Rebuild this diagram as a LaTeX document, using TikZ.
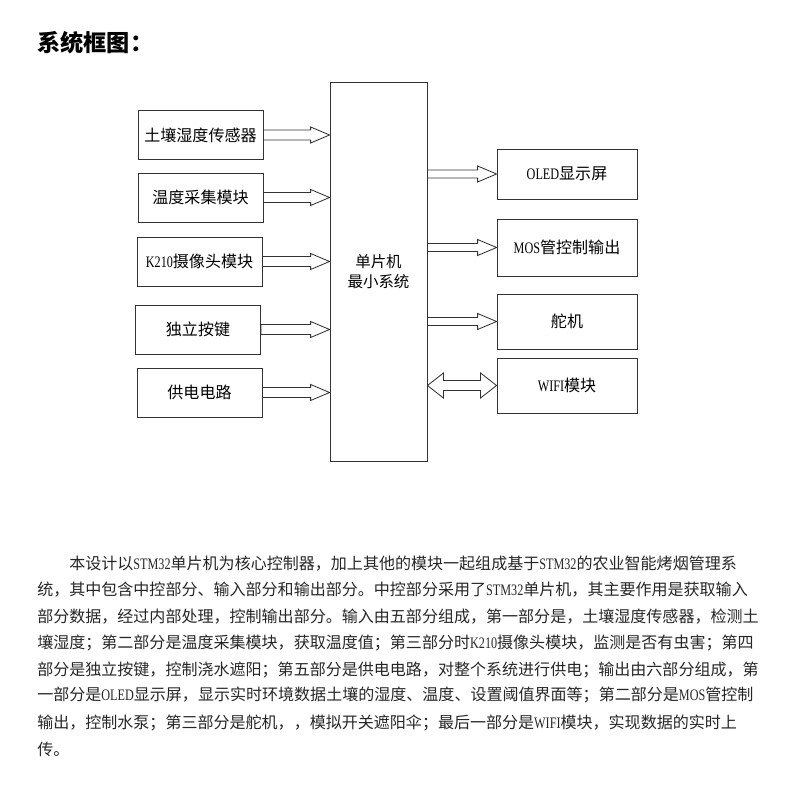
\documentclass[tikz,border=0pt]{standalone}
\usepackage{fontspec}
\setmainfont{Noto Sans CJK SC}
\newfontfamily\enfont[FakeStretch=0.76]{Liberation Serif}
\newcommand\en[1]{{\enfont #1}}
\usepackage{tikz}
\usetikzlibrary{
	calc,
}

\tikzset{
	box/.style={draw=black!80, line width=0.6pt, inner sep=0pt,
		minimum width=3.125cm, minimum height=1.225cm,
		font=\fontsize{11.4}{13}\selectfont},
	outbox/.style={box, minimum width=3.5cm},
	para/.style={anchor=west, inner sep=0pt, text=black!85,
		font=\fontsize{11.4}{13}\selectfont},
	blockarrow/.style n args={3}{draw=black!80, line width=0.6pt,
		to path={let \p1=(\tikztostart), \p2=(\tikztotarget) in
			(\x1,\y1+#1) -- (\x2-#3,\y1+#1) -- (\x2-#3,\y1+#2) -- (\x2,\y1)
			-- (\x2-#3,\y1-#2) -- (\x2-#3,\y1-#1) -- (\x1,\y1-#1) -- cycle}},
	botharrow/.style={draw=black!80, line width=0.6pt,
		to path={let \p1=(\tikztostart), \p2=(\tikztotarget) in
			(\x1,\y1) -- (\x1+11.4pt,\y1+8.9pt) -- (\x1+11.4pt,\y1+3.6pt)
			-- (\x2-11.4pt,\y1+3.6pt) -- (\x2-11.4pt,\y1+8.9pt) -- (\x2,\y1)
			-- (\x2-11.4pt,\y1-8.9pt) -- (\x2-11.4pt,\y1-3.6pt)
			-- (\x1+11.4pt,\y1-3.6pt) -- (\x1+11.4pt,\y1-8.9pt) -- cycle}},
}

\begin{document}
\begin{tikzpicture}[x=0.025cm, y=-0.025cm]
	\useasboundingbox (0,0) rectangle (800,800);

	\node[anchor=west, inner sep=0pt, font=\fontsize{16.5}{18}\selectfont\bfseries] (title) at (37,43) {系统框图：};

	% single chip
	\node[box, minimum width=2.425cm, minimum height=9.475cm, align=center,
		font=\fontsize{11}{14.2}\selectfont] (mcu) at (378.5,271.5) {单片机\\最小系统};

	% inputs
	\node[box] (soil)  at (200.5,135)   {土壤湿度传感器};
	\node[box] (temp)  at (200.5,197.5) {温度采集模块};
	\node[box] (cam)   at (199.5,261.5) {\en{K210}摄像头模块};
	\node[box] (key)   at (198,329.5)   {独立按键};
	\node[box] (power) at (199.5,392.5) {供电电路};

	\foreach \src in {soil,temp,cam,key,power}
		\draw[blockarrow={3.6pt}{5.7pt}{13.5pt}] (\src.east) to (\src.east -| mcu.west);

	% outputs
	\node[outbox, minimum height=1.25cm]  (oled)  at (567,174)   {\en{OLED}显示屏};
	\node[outbox, minimum height=1.425cm] (mos)   at (567,247.5) {\en{MOS}管控制输出};
	\node[outbox, minimum height=1.375cm] (servo) at (567,321.5) {舵机};
	\node[outbox, minimum height=1.375cm] (wifi)  at (567,385.5) {\en{WIFI}模块};

	\foreach \dst in {oled,mos,servo}
		\draw[blockarrow={2.85pt}{5.7pt}{13.5pt}] (\dst.west -| mcu.east) to (\dst.west);
	\draw[botharrow] (wifi.west -| mcu.east) to (wifi.west);

	% text
	\node[para] (l1) at (69,564) {本设计以\en{STM32}单片机为核心控制器，加上其他的模块一起组成基于\en{STM32}的农业智能烤烟管理系};
	\node[para] (l2) at (37,590) {统，其中包含中控部分、输入部分和输出部分。中控部分采用了\en{STM32}单片机，其主要作用是获取输入};
	\node[para] (l3) at (37,617) {部分数据，经过内部处理，控制输出部分。输入由五部分组成，第一部分是，土壤湿度传感器，检测土};
	\node[para] (l4) at (37,643) {壤湿度；第二部分是温度采集模块，获取温度值；第三部分时\en{K210}摄像头模块，监测是否有虫害；第四};
	\node[para] (l5) at (37,670) {部分是独立按键，控制浇水遮阳；第五部分是供电电路，对整个系统进行供电；输出由六部分组成，第};
	\node[para] (l6) at (37,695) {一部分是\en{OLED}显示屏，显示实时环境数据土壤的湿度、温度、设置阈值界面等；第二部分是\en{MOS}管控制};
	\node[para] (l7) at (37,723) {输出，控制水泵；第三部分是舵机，，模拟开关遮阳伞；最后一部分是\en{WIFI}模块，实现数据的实时上};
	\node[para] (l8) at (37,749) {传。};
\end{tikzpicture}
\end{document}
